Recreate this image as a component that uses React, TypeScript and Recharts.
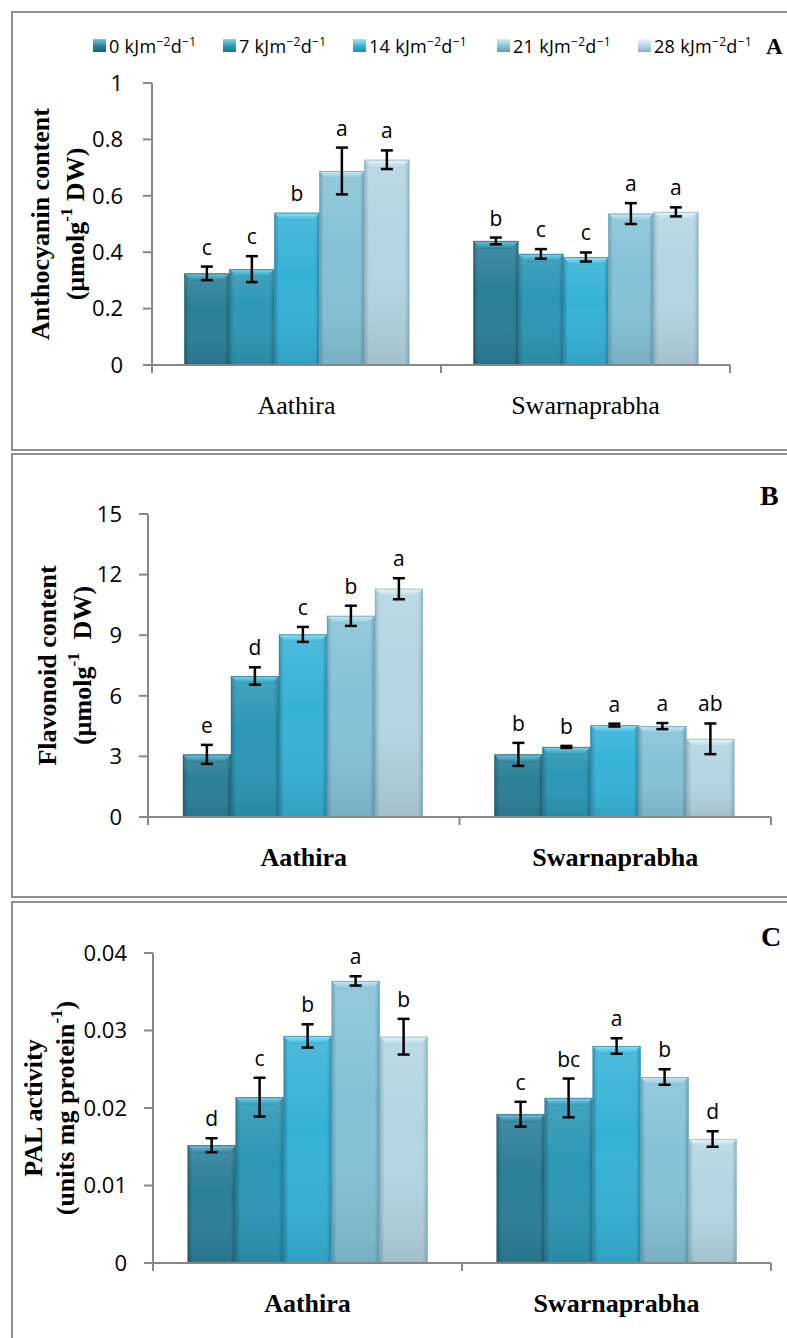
import React from 'react';
import { BarChart, Bar, XAxis, YAxis, ErrorBar, LabelList, Legend, Label } from 'recharts';

const varieties = ['Aathira', 'Swarnaprabha'];
const doses = ['0', '7', '14', '21', '28'];

// Anthocyanin content, µmol g-1 DW
const anthoAathira = [0.325, 0.34, 0.54, 0.688, 0.728];
const anthoAathiraSE = [0.024, 0.046, 0, 0.083, 0.033];
const anthoAathiraSig = ['c', 'c', 'b', 'a', 'a'];
const anthoSwarna = [0.44, 0.394, 0.383, 0.537, 0.543];
const anthoSwarnaSE = [0.012, 0.017, 0.016, 0.037, 0.016];
const anthoSwarnaSig = ['b', 'c', 'c', 'a', 'a'];
const anthoTicks = [0, 0.2, 0.4, 0.6, 0.8, 1];

// Flavonoid content, µmol g-1 DW
const flavAathira = [3.1, 6.98, 9.04, 9.96, 11.3];
const flavAathiraSE = [0.47, 0.43, 0.37, 0.5, 0.52];
const flavAathiraSig = ['e', 'd', 'c', 'b', 'a'];
const flavSwarna = [3.1, 3.47, 4.55, 4.5, 3.87];
const flavSwarnaSE = [0.57, 0.05, 0.07, 0.15, 0.76];
const flavSwarnaSig = ['b', 'b', 'a', 'a', 'ab'];
const flavTicks = [0, 3, 6, 9, 12, 15];

// PAL activity, units mg protein-1
const palAathira = [0.0152, 0.0214, 0.0293, 0.0364, 0.0292];
const palAathiraSE = [0.0009, 0.0025, 0.0015, 0.0006, 0.0023];
const palAathiraSig = ['d', 'c', 'b', 'a', 'b'];
const palSwarna = [0.0192, 0.0213, 0.028, 0.024, 0.016];
const palSwarnaSE = [0.0016, 0.0025, 0.001, 0.001, 0.001];
const palSwarnaSig = ['c', 'bc', 'a', 'b', 'd'];
const palTicks = [0, 0.01, 0.02, 0.03, 0.04];

const TONES = [
  { base: '#2b7f97', hi: '#74c8de', dark: '#1d6073' },
  { base: '#2c97b4', hi: '#7cdaf0', dark: '#1f7590' },
  { base: '#36b2d7', hi: '#97e6f8', dark: '#2689aa' },
  { base: '#86c2d7', hi: '#cdeef8', dark: '#629db2' },
  { base: '#b3d5e2', hi: '#eaf7fb', dark: '#8cb1bf' },
];

// legend slot widths, left to right
const legendSlots = [130, 130, 144, 141, 130];

const AXIS = '#878787';
const SANS = '"Open Sans", sans-serif';
const SERIF = '"Liberation Serif", "Times New Roman", serif';

type Row = Record<string, string | number>;

function buildRows(means: number[][], errs: number[][], sigs: string[][]): Row[] {
  return varieties.map((v, k) => {
    const row: Row = { variety: v };
    doses.forEach((_, i) => {
      row[`v${i}`] = means[k][i];
      row[`e${i}`] = errs[k][i];
      row[`s${i}`] = sigs[k][i];
    });
    return row;
  });
}

const anthoRows = buildRows(
  [anthoAathira, anthoSwarna],
  [anthoAathiraSE, anthoSwarnaSE],
  [anthoAathiraSig, anthoSwarnaSig],
);
const flavRows = buildRows(
  [flavAathira, flavSwarna],
  [flavAathiraSE, flavSwarnaSE],
  [flavAathiraSig, flavSwarnaSig],
);
const palRows = buildRows([palAathira, palSwarna], [palAathiraSE, palSwarnaSE], [palAathiraSig, palSwarnaSig]);

function GradientDefs({ gid }: { gid: string }) {
  return (
    <defs>
      {TONES.map((t, i) => (
        <React.Fragment key={i}>
          <linearGradient id={`${gid}-body${i}`} x1="0" y1="0" x2="1" y2="0">
            <stop offset="0%" stopColor={t.dark} />
            <stop offset="10%" stopColor={t.base} />
            <stop offset="90%" stopColor={t.base} />
            <stop offset="100%" stopColor={t.dark} />
          </linearGradient>
          <linearGradient id={`${gid}-cap${i}`} x1="0" y1="0" x2="0" y2="1">
            <stop offset="0%" stopColor={t.hi} />
            <stop offset="100%" stopColor={t.base} />
          </linearGradient>
        </React.Fragment>
      ))}
      <linearGradient id={`${gid}-shade`} x1="0" y1="0" x2="0" y2="1">
        <stop offset="0%" stopColor="#ffffff" stopOpacity={0.12} />
        <stop offset="40%" stopColor="#ffffff" stopOpacity={0} />
        <stop offset="100%" stopColor="#000000" stopOpacity={0.1} />
      </linearGradient>
    </defs>
  );
}

// bevelled column: flat body with darker sides and a lit top edge
function BevelBar(props: any) {
  const { x, y, width, height, tone, gid } = props;
  if (!height || height <= 0) return null;
  const t = TONES[tone];
  const b = Math.min(8, height / 2, width / 4);
  return (
    <g>
      <rect x={x} y={y} width={width} height={height} fill={`url(#${gid}-body${tone})`} />
      <rect x={x} y={y} width={width} height={height} fill={`url(#${gid}-shade)`} />
      <polygon
        points={`${x},${y} ${x + width},${y} ${x + width - b},${y + b} ${x + b},${y + b}`}
        fill={`url(#${gid}-cap${tone})`}
      />
      <rect
        x={x + 0.5}
        y={y + 0.5}
        width={width - 1}
        height={height - 1}
        fill="none"
        stroke={t.dark}
        strokeOpacity={0.7}
      />
    </g>
  );
}

// variety name plus the short marks at the edges of each category band
function VarietyTick(props: any) {
  const { x, y, payload, index, visibleTicksCount, bold } = props;
  const half = payload?.offset ?? 0;
  const last = index === visibleTicksCount - 1;
  return (
    <g>
      <line x1={x - half} y1={y} x2={x - half} y2={y + 8} stroke={AXIS} strokeWidth={2} />
      {last && <line x1={x + half} y1={y} x2={x + half} y2={y + 8} stroke={AXIS} strokeWidth={2} />}
      <text
        x={x}
        y={y + 49}
        textAnchor="middle"
        fill="#000"
        fontSize={26}
        fontFamily={SERIF}
        fontWeight={bold ? 700 : 400}
      >
        {payload.value}
      </text>
    </g>
  );
}

// significance letter sits just above the top of the error bar
function sigLabel(i: number, rows: Row[]) {
  return (props: any) => {
    const vb = props.viewBox || props;
    const x = props.x ?? vb.x;
    const y = props.y ?? vb.y;
    const width = props.width ?? vb.width;
    const height = props.height ?? vb.height;
    const row = rows[props.index];
    const mean = Number(row[`v${i}`]);
    const se = Number(row[`e${i}`]) || 0;
    const top = y - (se / mean) * Math.abs(height);
    return (
      <text x={x + width / 2} y={top - 12} textAnchor="middle" fill="#000" fontSize={21} fontFamily={SANS}>
        {props.value}
      </text>
    );
  };
}

function yTitle(lines: React.ReactNode[], dx: number[]) {
  return (props: any) => {
    const vb = props.viewBox;
    const right = vb.x + vb.width;
    const cy = vb.y + vb.height / 2;
    return (
      <g>
        {lines.map((ln, k) => {
          const cx = right + dx[k];
          return (
            <text
              key={k}
              x={cx}
              y={cy}
              transform={`rotate(-90 ${cx} ${cy})`}
              textAnchor="middle"
              dominantBaseline="central"
              fill="#000"
              fontSize={26}
              fontWeight={700}
              fontFamily={SERIF}
            >
              {ln}
            </text>
          );
        })}
      </g>
    );
  };
}

function DoseLegend() {
  return (
    <div style={{ display: 'flex', paddingLeft: 79, fontFamily: SANS, fontSize: 18, color: '#000' }}>
      {doses.map((d, i) => (
        <div key={d} style={{ display: 'flex', alignItems: 'center', width: legendSlots[i], flex: 'none' }}>
          <span
            style={{
              display: 'inline-block',
              width: 13,
              height: 13,
              marginRight: 3,
              background: `linear-gradient(to bottom, ${TONES[i].hi}, ${TONES[i].base} 55%, ${TONES[i].dark})`,
            }}
          />
          <span style={{ whiteSpace: 'nowrap', letterSpacing: 0.3 }}>
            {d} kJm<sup style={{ fontSize: 12 }}>−2</sup>d<sup style={{ fontSize: 12 }}>−1</sup>
          </span>
        </div>
      ))}
    </div>
  );
}

interface PanelProps {
  gid: string;
  rows: Row[];
  ticks: number[];
  top: number;
  height: number;
  margin: { top: number; right: number; bottom: number; left: number };
  tickGap: number;
  title: React.ReactNode[];
  titleDx: number[];
  boldCategory: boolean;
  legend?: boolean;
}

function Panel(p: PanelProps) {
  return (
    <div style={{ position: 'absolute', left: 14, top: p.top }}>
      <BarChart
        width={773}
        height={p.height}
        data={p.rows}
        margin={p.margin}
        barCategoryGap="11.2%"
        barGap={0}
      >
        <GradientDefs gid={p.gid} />
        <XAxis
          dataKey="variety"
          axisLine={{ stroke: AXIS, strokeWidth: 2 }}
          tickLine={false}
          tickSize={0}
          tickMargin={0}
          height={60}
          interval={0}
          tick={<VarietyTick bold={p.boldCategory} />}
        />
        <YAxis
          width={80}
          domain={[p.ticks[0], p.ticks[p.ticks.length - 1]]}
          ticks={p.ticks}
          interval={0}
          tickSize={9}
          tickMargin={p.tickGap}
          axisLine={{ stroke: AXIS, strokeWidth: 2 }}
          tickLine={{ stroke: AXIS, strokeWidth: 2 }}
          tick={{ fill: '#000', fontSize: 22, fontFamily: SANS }}
        >
          <Label content={yTitle(p.title, p.titleDx)} />
        </YAxis>
        {p.legend && (
          <Legend
            layout="horizontal"
            verticalAlign="middle"
            align="center"
            content={() => <DoseLegend />}
            wrapperStyle={{ top: 13, left: 0, width: 773 }}
          />
        )}
        {doses.map((d, i) => (
          <Bar
            key={d}
            dataKey={`v${i}`}
            name={`${d} kJm-2d-1`}
            fill={TONES[i].base}
            isAnimationActive={false}
            shape={(sp: any) => <BevelBar {...sp} tone={i} gid={p.gid} />}
          >
            <ErrorBar dataKey={`e${i}`} direction="y" width={6} stroke="#000" strokeWidth={2.5} />
            <LabelList dataKey={`s${i}`} content={sigLabel(i, p.rows)} />
          </Bar>
        ))}
      </BarChart>
    </div>
  );
}

const boxStyle = (top: number, height: number): React.CSSProperties => ({
  position: 'absolute',
  left: 11,
  top,
  width: 800,
  height,
  boxSizing: 'border-box',
  border: '2px solid #8f8f8f',
});

const letterStyle = (left: number, top: number, size: number): React.CSSProperties => ({
  position: 'absolute',
  left,
  top,
  fontFamily: SERIF,
  fontWeight: 700,
  fontSize: size,
  lineHeight: 1,
  color: '#000',
});

export default function App() {
  return (
    <div
      style={{
        position: 'fixed',
        left: 0,
        top: 0,
        width: 787,
        height: 1338,
        overflow: 'hidden',
        background: '#fff',
      }}
    >
      <div style={boxStyle(11, 440)} />
      <div style={boxStyle(453, 445)} />
      <div style={boxStyle(901, 460)} />

      <Panel
        gid="antho"
        rows={anthoRows}
        ticks={anthoTicks}
        top={20}
        height={428}
        margin={{ top: 63, right: 57, bottom: 23, left: 58 }}
        tickGap={20}
        title={[
          'Anthocyanin content',
          <>
            (µmolg<tspan dy={-9} fontSize={17}>-1</tspan>
            <tspan dy={9}> DW)</tspan>
          </>,
        ]}
        titleDx={[-112, -77]}
        boldCategory={false}
        legend
      />
      <Panel
        gid="flav"
        rows={flavRows}
        ticks={flavTicks}
        top={470}
        height={424}
        margin={{ top: 44, right: 16, bottom: 17, left: 54 }}
        tickGap={17}
        title={[
          'Flavonoid content',
          <>
            (µmolg<tspan dy={-9} fontSize={17}>-1</tspan>
            <tspan dy={9}>{'\u00a0 DW)'}</tspan>
          </>,
        ]}
        titleDx={[-101, -66]}
        boldCategory
      />
      <Panel
        gid="pal"
        rows={palRows}
        ticks={palTicks}
        top={920}
        height={418}
        margin={{ top: 33, right: 16, bottom: 15, left: 59 }}
        tickGap={17}
        title={[
          'PAL activity',
          <>
            (units mg protein<tspan dy={-9} fontSize={17}>-1</tspan>
            <tspan dy={9}>)</tspan>
          </>,
        ]}
        titleDx={[-120, -88]}
        boldCategory
      />

      <div style={letterStyle(766, 35, 23)}>A</div>
      <div style={letterStyle(760, 482, 28)}>B</div>
      <div style={letterStyle(761, 923, 28)}>C</div>
    </div>
  );
}
